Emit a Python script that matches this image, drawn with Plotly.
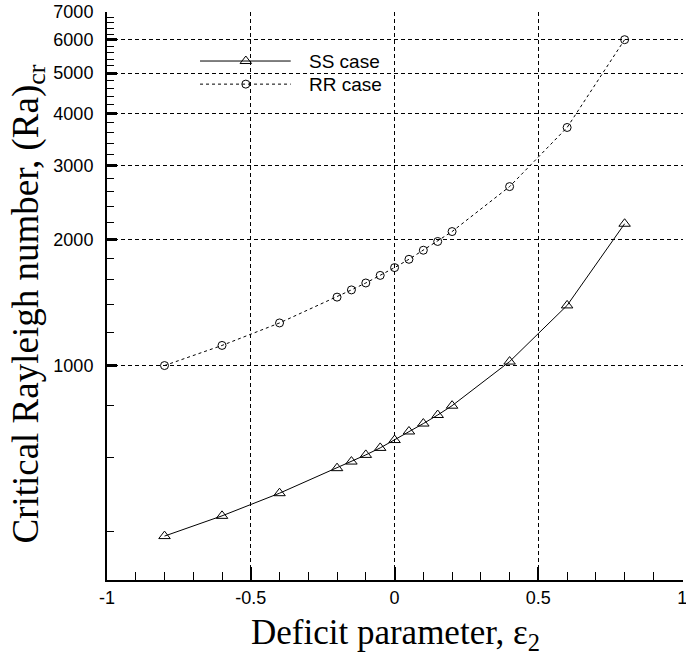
import plotly.graph_objects as go

# ---- data ----
eps = [-0.8, -0.6, -0.4, -0.2, -0.15, -0.1, -0.05, 0.0, 0.05, 0.1, 0.15, 0.2, 0.4, 0.6, 0.8]
ss_ra = [390, 436, 494, 567, 588, 610, 634, 662, 694, 725, 760, 800, 1020, 1390, 2180]
rr_ra = [998, 1115, 1262, 1455, 1514, 1573, 1640, 1712, 1792, 1884, 1977, 2088, 2675, 3705, 6010]
series_names = ["SS case", "RR case"]

x_major = [-1, -0.5, 0, 0.5, 1]
x_tick_text = ["-1", "-0.5", "0", "0.5", "1"]
x_minor = [round(-1 + 0.1 * i, 1) for i in range(21)]
y_major = [1000, 2000, 3000, 4000, 5000, 6000, 7000]
y_tick_text = ["1000", "2000", "3000", "4000", "5000", "6000", "7000"]
y_minor = [v for v in range(400, 7000, 200) if v not in y_major]

# legend sample placement (paper coords of overlay axis)
leg_x0, leg_x1, leg_xm = 0.1615, 0.319, 0.241
leg_y = [0.9137, 0.873]

TICKFONT = dict(family="Liberation Sans, Arial", size=18, color="black")
TITLEFONT = dict(family="Liberation Serif, Times New Roman", size=35, color="black")
YTITLEFONT = dict(family="Liberation Serif, Times New Roman", size=37, color="black")

fig = go.Figure()
fig.add_trace(go.Scatter(
    x=eps, y=ss_ra, mode="lines+markers", name=series_names[0],
    line=dict(color="black", width=1),
    marker=dict(symbol="triangle-up-open", size=10, color="black", line=dict(width=1)),
    showlegend=False))
fig.add_trace(go.Scatter(
    x=eps, y=rr_ra, mode="lines+markers", name=series_names[1],
    line=dict(color="black", width=1, dash="3px,3px"),
    marker=dict(symbol="circle-open", size=8, color="black", line=dict(width=1)),
    showlegend=False))

# legend samples on overlay axis
fig.add_trace(go.Scatter(x=[leg_x0, leg_x1], y=[leg_y[0]] * 2, mode="lines",
                         line=dict(color="black", width=1), xaxis="x2", yaxis="y2",
                         showlegend=False, hoverinfo="skip"))
fig.add_trace(go.Scatter(x=[leg_xm], y=[leg_y[0]], mode="markers",
                         marker=dict(symbol="triangle-up-open", size=10, color="black", line=dict(width=1)),
                         xaxis="x2", yaxis="y2", showlegend=False, hoverinfo="skip"))
fig.add_trace(go.Scatter(x=[leg_x0, leg_x1], y=[leg_y[1]] * 2, mode="lines",
                         line=dict(color="black", width=1, dash="3px,3px"), xaxis="x2", yaxis="y2",
                         showlegend=False, hoverinfo="skip"))
fig.add_trace(go.Scatter(x=[leg_xm], y=[leg_y[1]], mode="markers",
                         marker=dict(symbol="circle-open", size=8, color="black", line=dict(width=1)),
                         xaxis="x2", yaxis="y2", showlegend=False, hoverinfo="skip"))

for name, yy in zip(series_names, leg_y):
    fig.add_annotation(x=0.348, y=yy, xref="paper", yref="paper", text=name,
                       showarrow=False, xanchor="left", yanchor="middle",
                       font=dict(family="Liberation Sans, Arial", size=19, color="black"))

# axis titles
fig.add_annotation(x=-0.137, y=0.485, xref="paper", yref="paper", textangle=-90,
                   text="Critical Rayleigh number, (Ra)<sub>cr</sub>", showarrow=False,
                   xanchor="center", yanchor="middle", font=YTITLEFONT)
fig.add_annotation(x=0.5, y=-0.055, xref="paper", yref="paper",
                   text="Deficit parameter, ε<sub>2</sub>", showarrow=False,
                   xanchor="center", yanchor="top", font=TITLEFONT)

fig.update_layout(
    width=686, height=655,
    margin=dict(l=107, r=3, t=12, b=75),
    plot_bgcolor="white", paper_bgcolor="white",
    xaxis=dict(range=[-1, 1.003], tickmode="array", tickvals=x_major, ticktext=x_tick_text,
               ticks="inside", ticklen=13, tickwidth=2, tickcolor="black",
               showline=True, linecolor="black", linewidth=2,
               showgrid=True, gridcolor="black", gridwidth=1, griddash="4px,3px",
               zeroline=False, tickfont=TICKFONT, automargin=False,
               ticklabeloverflow="allow",
               minor=dict(tickmode="array", tickvals=x_minor, ticks="inside", ticklen=8,
                          tickwidth=1, tickcolor="black", showgrid=False)),
    yaxis=dict(type="log", range=[2.486, 3.8451], tickmode="array", tickvals=y_major,
               ticktext=y_tick_text,
               ticks="inside", ticklen=10, tickwidth=3, tickcolor="black",
               showline=True, linecolor="black", linewidth=2,
               showgrid=True, gridcolor="black", gridwidth=1, griddash="4px,3px",
               zeroline=False, tickfont=TICKFONT, automargin=False, ticklabelstandoff=8,
               minor=dict(tickmode="array", tickvals=y_minor, ticks="inside", ticklen=7,
                          tickwidth=1, tickcolor="black", showgrid=False)),
    xaxis2=dict(range=[0, 1], overlaying="x", visible=False, fixedrange=True),
    yaxis2=dict(range=[0, 1], overlaying="y", visible=False, fixedrange=True),
    showlegend=False,
)

fig.write_html("out.html")
